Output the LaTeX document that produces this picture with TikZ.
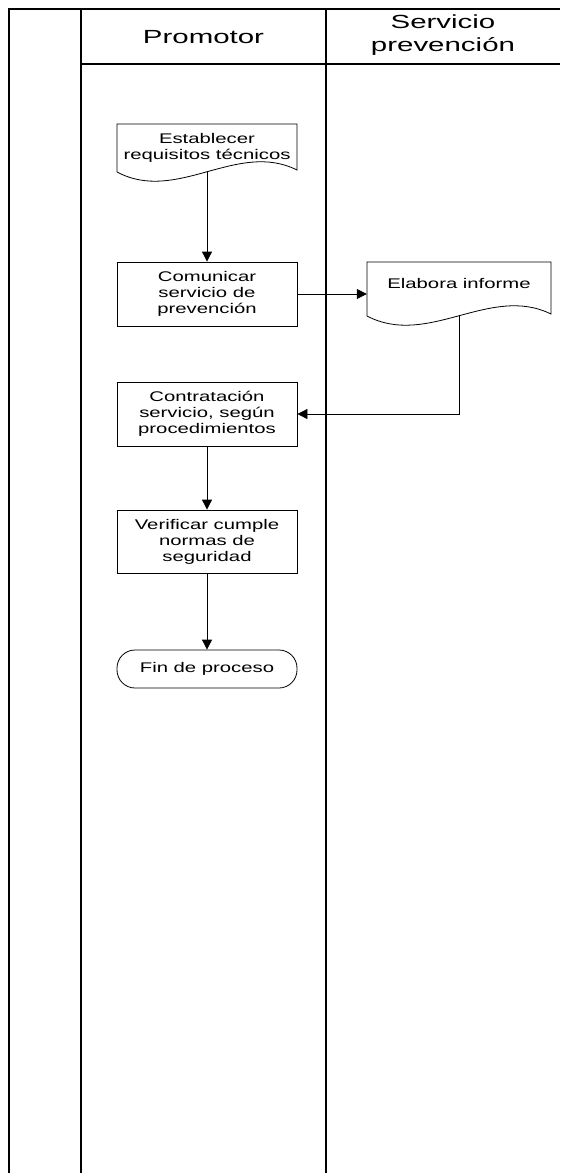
\documentclass[tikz,border=0pt]{standalone}
\usepackage{fontspec}
\newfontfamily\nodefont[FakeStretch=1.45]{Liberation Sans}
\newfontfamily\headfont[FakeStretch=1.55]{Liberation Sans}
\usetikzlibrary{arrows.meta,calc}
\begin{document}
\begin{tikzpicture}[x=1pt,y=-1pt,
  lane/.style={line width=1.2pt,black},
  head/.style={font=\headfont\fontsize{19}{23}\selectfont,align=center,inner sep=0pt},
  stepbox/.style={draw,line width=0.8pt,minimum width=180pt,align=center,inner sep=0pt,
                  font=\nodefont\fontsize{14}{16}\selectfont},
  doctext/.style={minimum width=180pt,align=center,inner sep=0pt,
                  font=\nodefont\fontsize{14}{16}\selectfont},
  docline/.style={line width=0.8pt},
  endbox/.style={draw,line width=0.8pt,rounded corners=18pt,minimum width=180pt,minimum height=38pt,
                 inner sep=0pt,font=\nodefont\fontsize{14}{16}\selectfont},
  arr/.style={line width=0.8pt,-{Triangle[length=10pt,width=10pt]}},
  link/.style={line width=0.8pt}]
\useasboundingbox (0,0) rectangle (560,1173);
% swimlanes
\draw[lane] (9,1173) -- (9,9) -- (560,9);
\draw[lane] (81,9) -- (81,1173);
\draw[lane] (326,9) -- (326,1173);
\draw[lane] (81,64) -- (560,64);
\node[head] (h1) at (203.5,37) {Promotor};
\node[head] (h2) at (443,35) {Servicio\\prevención};
% document 1
\node[doctext,minimum height=48pt] (d1) at (207,148) {Establecer\\requisitos técnicos};
\draw[docline] (117,172) -- (117,124) -- (297,124) -- (297,170)
   .. controls (237,140) and (177,204) .. (117,172);
\coordinate (d1b) at (207,171);
% process boxes
\node[stepbox,minimum height=64pt] (c2) at (207,294) {Comunicar\\servicio de\\prevención};
\node[stepbox,minimum height=64pt] (c3) at (207,414) {Contratación\\servicio, según\\procedimientos};
\node[stepbox,minimum height=63pt] (c4) at (207,541.5) {Verificar cumple\\normas de\\seguridad};
\node[endbox] (f) at (207,669) {Fin de proceso};
% document 2
\node[doctext,minimum width=184pt,minimum height=42pt] (e1) at (459,283) {Elabora informe};
\draw[docline] (367,316) -- (367,262) -- (551,262) -- (551,314)
   .. controls (489.7,284) and (428.3,348) .. (367,316);
\coordinate (e1b) at (459,315);
% connectors
\draw[arr] (d1b) -- (c2.north);
\draw[arr] (c2.east) -- (c2.east -| e1.west);
\draw[arr] (e1b) |- (c3.east);
\draw[arr] (c3.south) -- (c4.north);
\draw[arr] (c4.south) -- (f.north);
\end{tikzpicture}
\end{document}
